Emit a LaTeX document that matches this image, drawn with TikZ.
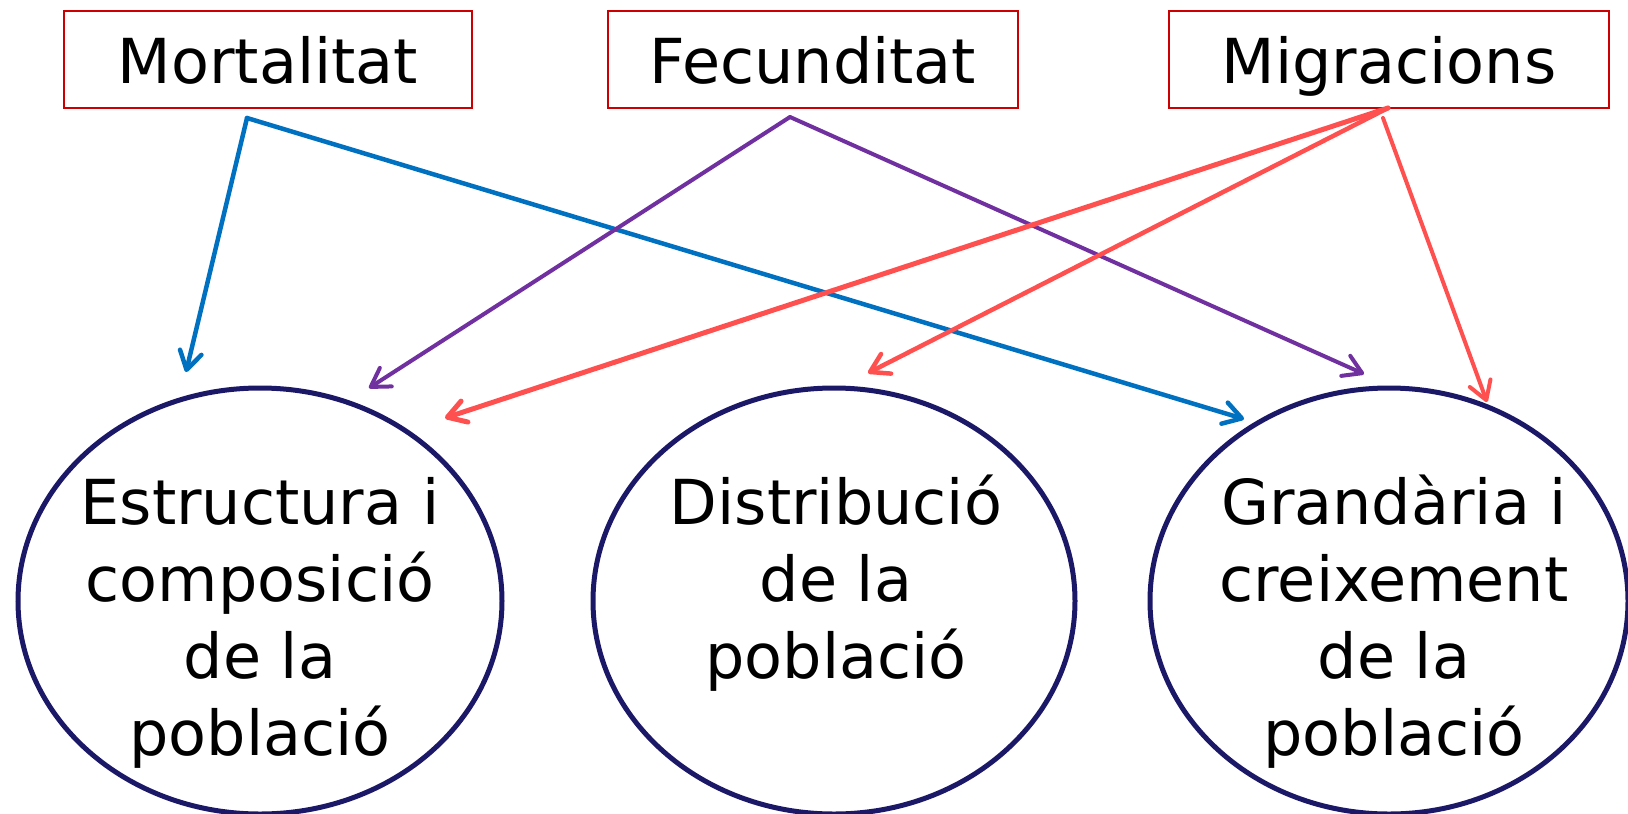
\documentclass[tikz,border=0pt]{standalone}
\usepackage{fontspec}
\setmainfont{DejaVu Sans}
\usetikzlibrary{shapes.geometric,arrows.meta}
\definecolor{boxred}{RGB}{204,0,0}
\definecolor{ellnavy}{RGB}{28,24,104}
\definecolor{cblue}{RGB}{0,112,192}
\definecolor{cpurple}{RGB}{112,48,160}
\definecolor{cred}{RGB}{255,80,80}
\tikzset{
  factor/.style={draw=boxred, line width=2pt, rectangle, inner sep=0pt,
    minimum height=97pt, text height=47pt, text depth=0pt,
    font=\fontsize{62}{77}\selectfont},
  ellbox/.style={draw=ellnavy, line width=5pt, ellipse, inner sep=0pt,
    minimum height=426pt},
  elltext/.style={align=center, inner sep=0pt, anchor=north,
    font=\fontsize{62}{77}\selectfont},
  arr/.style={line width=4.5pt, line cap=round, line join=round,
    -{Straight Barb[length=18pt,width=22pt,line cap=round,line join=round]}},
}
\begin{document}
\begin{tikzpicture}[x=1pt,y=-1pt]
\useasboundingbox (0,0) rectangle (1628,814);
% factor boxes
\node[factor, minimum width=408pt] (mort) at (268,59.5) {Mortalitat};
\node[factor, minimum width=410pt] (fec) at (813,59.5) {Fecunditat};
\node[factor, minimum width=440pt] (mig) at (1389,59.5) {Migracions};
% ellipses
\node[ellbox, minimum width=484pt] (estr) at (260,601) {};
\node[ellbox, minimum width=482pt] (dist) at (834,601) {};
\node[ellbox, minimum width=478pt] (gran) at (1389,601) {};
\node[elltext] (estrT) at (260,469) {\rule{0pt}{55pt}Estructura i\\composició\\de la\\població};
\node[elltext] (distT) at (836,469) {\rule{0pt}{55pt}Distribució\\de la\\població};
\node[elltext] (granT) at (1394,469) {\rule{0pt}{55pt}Grandària i\\creixement\\de la\\població};
% connector start points
\coordinate (mortOut) at ([shift={(-21,9)}]mort.south);
\coordinate (fecOut) at ([shift={(-23,8)}]fec.south);
\coordinate (migOut) at ([shift={(-1,-1)}]mig.south);
\coordinate (migOutB) at ([shift={(-6,9)}]mig.south);
% connector end points
\coordinate (estrA) at (186,372);
\coordinate (estrB) at (369,388);
\coordinate (estrC) at (445,418);
\coordinate (distA) at (868,373);
\coordinate (granA) at (1244,419);
\coordinate (granB) at (1364,374);
\coordinate (granC) at (1487,402);
% arrows
\draw[arr, cblue] (mortOut) -- (estrA);
\draw[arr, cblue] (mortOut) -- (granA);
\draw[arr, cpurple, line width=4pt] (fecOut) -- (estrB);
\draw[arr, cpurple, line width=4pt] (fecOut) -- (granB);
\draw[arr, cred, line width=5pt] (migOut) -- (estrC);
\draw[arr, cred] (migOut) -- (distA);
\draw[arr, cred, line width=4pt] (migOutB) -- (granC);
\end{tikzpicture}
\end{document}
